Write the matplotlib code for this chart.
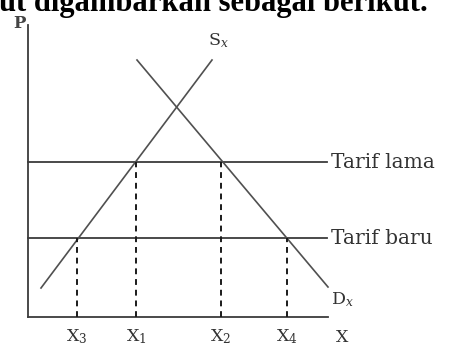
import matplotlib.pyplot as plt

plt.rcParams['mathtext.fontset'] = 'dejavuserif'

# quantities on the X axis (X3, X1, X2, X4)
q_labels = ['X$_3$', 'X$_1$', 'X$_2$', 'X$_4$']
q_values = [49, 108, 193, 259]

# tariff (price) levels
tarif_names = ['Tarif lama', 'Tarif baru']
tarif_levels = [155, 79]
q_to_level = [79, 155, 155, 79]

# supply and demand line end points
supply_q = [13, 184]
supply_p = [29, 257]
demand_q = [109, 300]
demand_p = [257, 30]

x_max = 300
y_max = 292

fig = plt.figure(figsize=(4.59, 3.56), dpi=100)
ax = fig.add_axes([0, 0, 1, 1])
ax.set_xlim(-28, 431)
ax.set_ylim(-39, 317)
ax.axis('off')

line_col = '#3c3c3c'
text_col = '#333333'

# axes
ax.plot([0, 0], [0, y_max], color=line_col, lw=1.3)
ax.plot([0, x_max], [0, 0], color=line_col, lw=1.3)

# tariff lines
for name, lvl in zip(tarif_names, tarif_levels):
    ax.plot([0, 299], [lvl, lvl], color=line_col, lw=1.3)
    ax.text(303, lvl, name, family='DejaVu Serif', fontsize=14.5,
            color=text_col, va='center', ha='left')

# supply and demand
ax.plot(supply_q, supply_p, color='#505050', lw=1.2)
ax.plot(demand_q, demand_p, color='#505050', lw=1.2)

# dashed guides and X labels
for lab, q, lvl in zip(q_labels, q_values, q_to_level):
    ax.plot([q, q], [0, lvl], color='#1a1a1a', lw=1.4, ls=(0, (3, 2.5)))
    ax.text(q, -20, lab, family='DejaVu Serif', fontsize=12.5,
            color=text_col, ha='center', va='center')

ax.text(314, -20, 'X', family='DejaVu Serif', fontsize=12.5,
        color=text_col, ha='center', va='center')
ax.text(-9, 294, 'P', family='DejaVu Serif', fontsize=12, color='#444444',
        ha='center', va='center', fontweight='bold')
ax.text(190, 276, 'S$_x$', family='DejaVu Serif', fontsize=12.5,
        color=text_col, ha='center', va='center')
ax.text(314, 17, 'D$_x$', family='DejaVu Serif', fontsize=12.5,
        color=text_col, ha='center', va='center')

# cropped heading from the source page
fig.text(-0.002, 1 - 11 / 356, 'ut digambarkan sebagai berikut.',
         family='Liberation Serif', fontweight='bold', fontsize=22,
         color='black', ha='left', va='baseline')

plt.savefig('out.png', dpi=100)
